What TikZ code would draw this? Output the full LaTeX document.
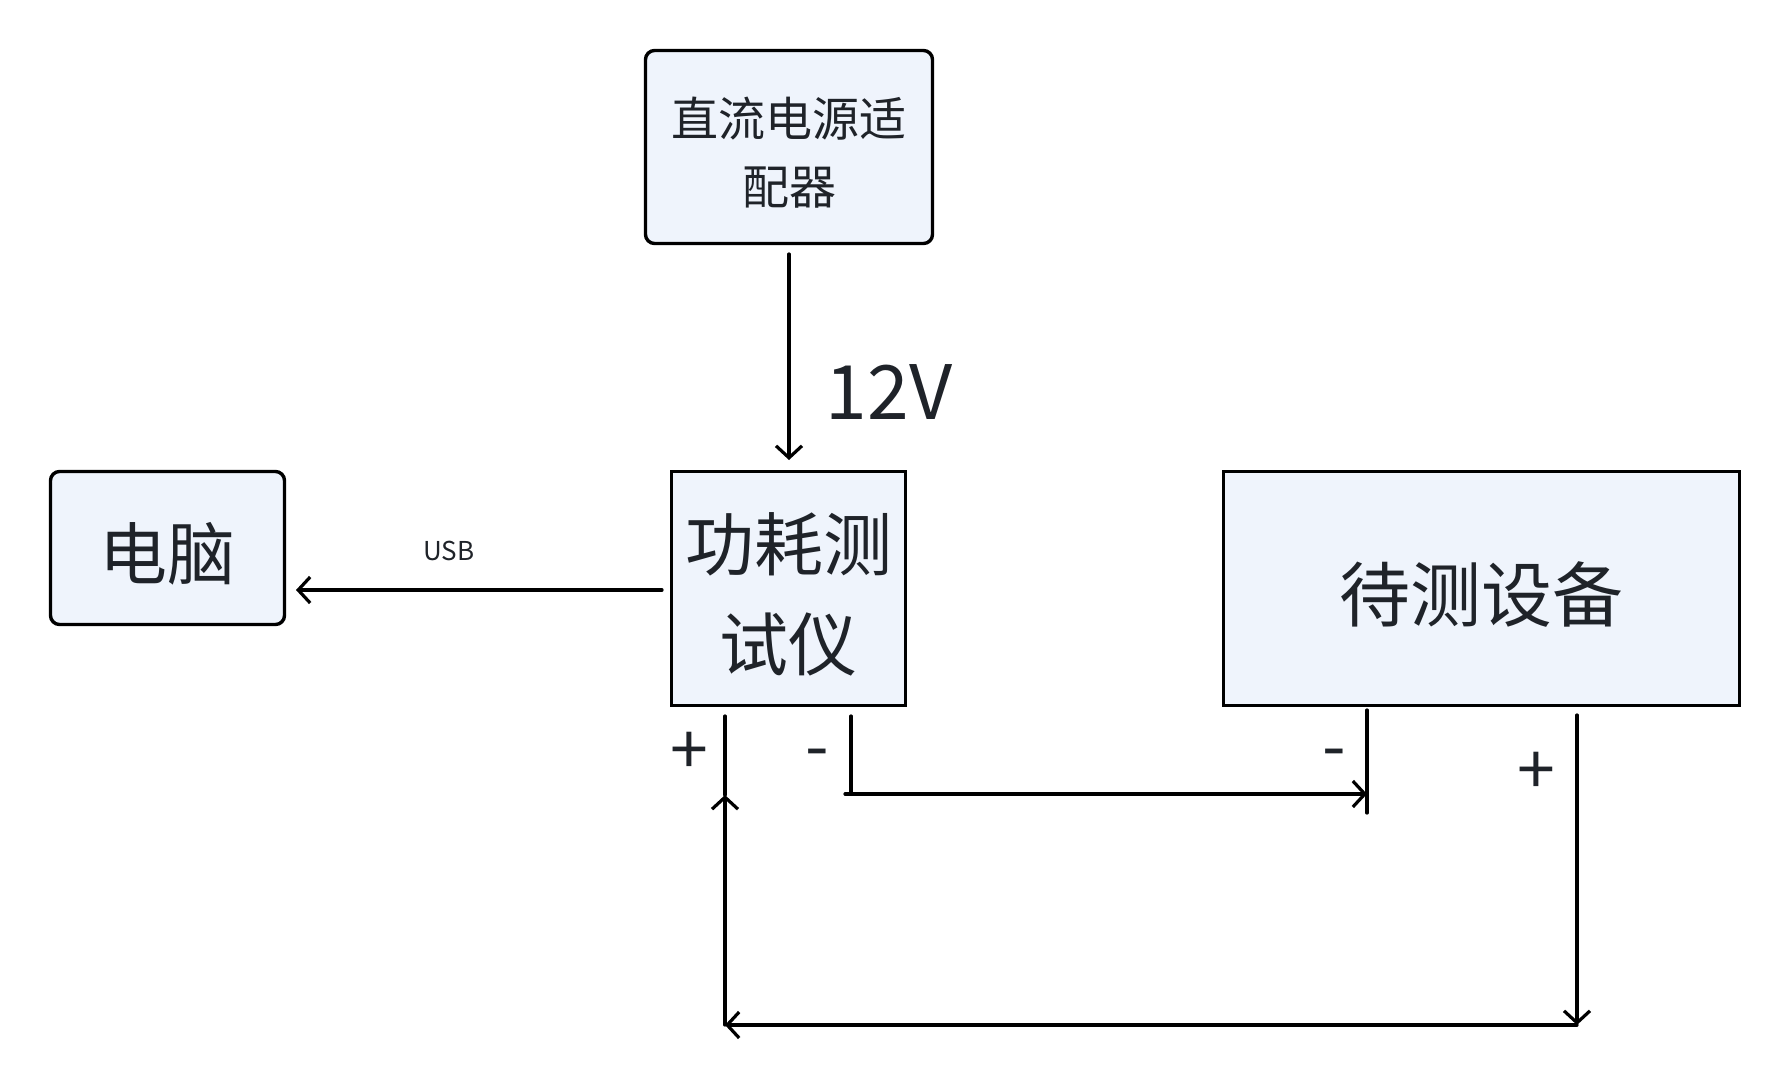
\documentclass[tikz,border=0pt]{standalone}
\usepackage{fontspec}
\setmainfont{Noto Sans CJK SC}
\usetikzlibrary{arrows.meta}
\definecolor{boxfill}{HTML}{EFF4FC}
\definecolor{txt}{HTML}{1F2329}
\newcommand{\lowertxt}[1]{\raisebox{-6pt}[\height][\depth]{#1}}
\tikzset{
  box/.style={draw=black, line width=3.4pt, fill=boxfill, text=txt, inner sep=0pt, align=center},
  rbox/.style={box, rounded corners=9pt},
  wire/.style={line width=3.2pt, line cap=round},
  arr/.style={wire, -{Straight Barb[length=12pt,width=26pt,line width=3.2pt]}},
  lbl/.style={text=txt, inner sep=0pt}
}
\begin{document}
\begin{tikzpicture}[x=1pt,y=-1pt]
\useasboundingbox (0,0) rectangle (1792,1090);
% boxes
\node[rbox, minimum width=287pt, minimum height=193pt, font=\fontsize{47}{68}\selectfont] (adapter) at (789,147) {\lowertxt{直流电源适}\\\lowertxt{配器}};
\node[box, minimum width=234pt, minimum height=234pt, font=\fontsize{69}{100}\selectfont] (meter) at (788.5,588.5) {\lowertxt{功耗测}\\\lowertxt{试仪}};
\node[rbox, minimum width=234pt, minimum height=153pt, font=\fontsize{68}{80}\selectfont] (pc) at (167.5,548) {\lowertxt{电脑}};
\node[box, minimum width=516pt, minimum height=234pt, font=\fontsize{71}{80}\selectfont] (dut) at (1481.5,588.5) {\lowertxt{待测设备}};
% labels
\node[lbl, font=\fontsize{75}{80}\selectfont] (v12) at (889,392) {12V};
\node[lbl, font=\fontsize{26}{30}\selectfont] (usb) at (449,551) {USB};
\node[lbl, font=\fontsize{68}{70}\selectfont] (mp) at (689,753) {+};
\node[lbl, font=\fontsize{68}{70}\selectfont] (mm) at (817,760) {-};
\node[lbl, font=\fontsize{68}{70}\selectfont] (dm) at (1334,760) {-};
\node[lbl, font=\fontsize{68}{70}\selectfont] (dp) at (1536,773) {+};
% coordinates
\coordinate (a1) at (789,254);
\coordinate (a2) at (789,460);
\coordinate (u1) at (662,590);
\coordinate (u2) at (296,590);
\coordinate (mp1) at (725,716);
\coordinate (mp2) at (725,795);
\coordinate (mpb) at (725,1025);
\coordinate (dp1) at (1577,715);
\coordinate (dp2) at (1577,814);
\coordinate (dpb) at (1577,1025);
\coordinate (mm1) at (851,716);
\coordinate (mm2) at (851,794);
\coordinate (mm3) at (845,794);
\coordinate (dm1) at (1367,710);
\coordinate (dm2) at (1367,813);
\coordinate (dmt) at (1367,794);
% connectors
\draw[arr] (a1) -- (a2);
\draw[arr] (u1) -- (u2);
\draw[wire] (mp1) -- (mp2);
\draw[arr] (mpb) -- (mp2);
\draw[arr] (dpb) -- (mpb);
\draw[arr] (dp2) -- (dpb);
\draw[wire] (dp1) -- (dp2);
\draw[wire] (mm1) -- (mm2);
\draw[arr] (mm3) -- (dmt);
\draw[wire] (dm1) -- (dm2);
\end{tikzpicture}
\end{document}
